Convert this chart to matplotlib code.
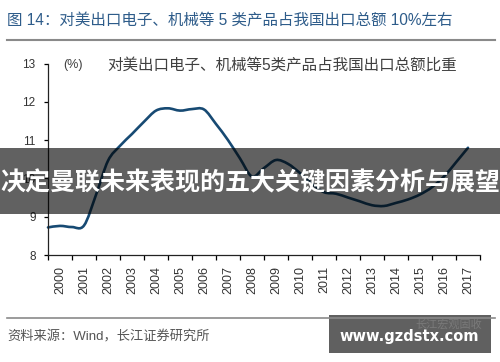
import numpy as np
import matplotlib.pyplot as plt
from matplotlib.path import Path
from matplotlib.patches import PathPatch, Rectangle

plt.rcParams['font.family'] = ['Liberation Sans', 'Noto Sans CJK SC', 'DejaVu Sans']

# x-axis categories
years = ['2000', '2001', '2002', '2003', '2004', '2005', '2006', '2007', '2008',
         '2009', '2010', '2011', '2012', '2013', '2014', '2015', '2016', '2017']

# series at half-year steps (start of 2000 .. mid 2017), in %
periods = [2000.0, 2000.5, 2001.0, 2001.5, 2002.0, 2002.5, 2003.0, 2003.5, 2004.0,
           2004.5, 2005.0, 2005.5, 2006.0, 2006.5, 2007.0, 2007.5, 2008.0, 2008.5,
           2009.0, 2009.5, 2010.0, 2010.5, 2011.0, 2011.5, 2012.0, 2012.5, 2013.0,
           2013.5, 2014.0, 2014.5, 2015.0, 2015.5, 2016.0, 2016.5, 2017.0, 2017.5]
share = [8.72, 8.76, 8.73, 8.77, 9.57, 10.46, 10.85, 11.16, 11.48,
         11.77, 11.83, 11.77, 11.81, 11.80, 11.42, 11.00, 10.52, 10.05,
         10.27, 10.48, 10.38, 10.14, 9.86, 9.64, 9.60, 9.50, 9.40,
         9.30, 9.28, 9.36, 9.45, 9.58, 9.77, 10.05, 10.42, 10.80]

title = '图 14：对美出口电子、机械等 5 类产品占我国出口总额 10%左右'
series_name = '对美出口电子、机械等5类产品占我国出口总额比重'
unit = '(%)'
source = '资料来源：Wind，长江证券研究所'
banner = '决定曼联未来表现的五大关键因素分析与展望'
site = 'www.gzdstx.com'

W, H = 500, 362


def px(x, y):
    return x / W, 1 - y / H


fig = plt.figure(figsize=(W / 100, H / 100), dpi=100)
fig.patch.set_facecolor('white')

x0, y0 = px(48, 255)
x1, y1 = px(480, 63.5)
ax = fig.add_axes([x0, y0, x1 - x0, y1 - y0])

# smooth line (Catmull-Rom bezier through the points), category axis units
x = np.array(periods) - 2000.5
y = np.array(share)
verts = [(x[0], y[0])]
codes = [Path.MOVETO]
n = len(x)
for i in range(n - 1):
    p0 = (x[max(i - 1, 0)], y[max(i - 1, 0)])
    p1 = (x[i], y[i])
    p2 = (x[i + 1], y[i + 1])
    p3 = (x[min(i + 2, n - 1)], y[min(i + 2, n - 1)])
    c1 = (p1[0] + (p2[0] - p0[0]) / 6, p1[1] + (p2[1] - p0[1]) / 6)
    c2 = (p2[0] - (p3[0] - p1[0]) / 6, p2[1] - (p3[1] - p1[1]) / 6)
    verts += [c1, c2, p2]
    codes += [Path.CURVE4] * 3
ax.add_patch(PathPatch(Path(verts, codes), facecolor='none',
                       edgecolor='#174a73', lw=1.9, capstyle='round', clip_on=False))

ax.set_xlim(-0.5, len(years) - 0.5)
ax.set_ylim(8, 13)
ax.set_yticks([8, 9, 10, 11, 12, 13])
ax.set_xticks(np.arange(len(years)))
ax.set_xticklabels(years, rotation=90)
ax.set_xticks(np.arange(-0.5, len(years)), minor=True)
ax.tick_params(axis='x', which='major', length=0, pad=8, labelsize=9, labelcolor='#333333')
ax.tick_params(axis='x', which='minor', length=3.5, direction='out', width=0.9)
ax.tick_params(axis='y', length=3, direction='out', width=0.9, pad=6,
               labelsize=8.5, labelcolor='#333333')
for s in ['top', 'right']:
    ax.spines[s].set_visible(False)
for s in ['left', 'bottom']:
    ax.spines[s].set_color('#222222')
    ax.spines[s].set_linewidth(0.9)

# texts
fig.text(*px(7, 20), title, fontsize=11.2, color='#2e5c8a', va='center', ha='left')
fig.add_artist(plt.Line2D([7 / W, 495 / W], [1 - 40 / H, 1 - 40 / H], color='#8a8a8a', lw=1.5))
fig.text(*px(63, 65), unit, fontsize=9, color='#404040', va='center', ha='left')
fig.text(*px(107, 65), series_name, fontsize=11.2, color='#404040', va='center', ha='left')

fig.add_artist(plt.Line2D([7 / W, 495 / W], [1 - 318 / H, 1 - 318 / H], color='#8a8a8a', lw=1.2))
fig.text(*px(7, 337), source, fontsize=9.5, color='#555555', va='center', ha='left')

# overlay banners
bx, by = px(0, 214)
fig.add_artist(Rectangle((bx, by), 1, 66 / H, transform=fig.transFigure,
                         facecolor='black', alpha=0.62, edgecolor='none'))
fig.text(*px(250, 183), banner, fontsize=18, color='white', fontweight='bold',
         va='center', ha='center', family=['Noto Sans CJK SC'])

sx, sy = px(329, 353)
fig.add_artist(Rectangle((sx, sy), 162 / W, 38 / H, transform=fig.transFigure,
                         facecolor='#606060', edgecolor='none'))
fig.text(*px(482, 324), '长江宏观固收', fontsize=8, color='#7a7a7a', va='center', ha='right',
         family=['Noto Sans CJK SC'])
fig.text(*px(409, 337), site, fontsize=10.5, color='white', fontweight='bold',
         va='center', ha='center', family=['DejaVu Sans'])

fig.savefig('out.png', dpi=100)
